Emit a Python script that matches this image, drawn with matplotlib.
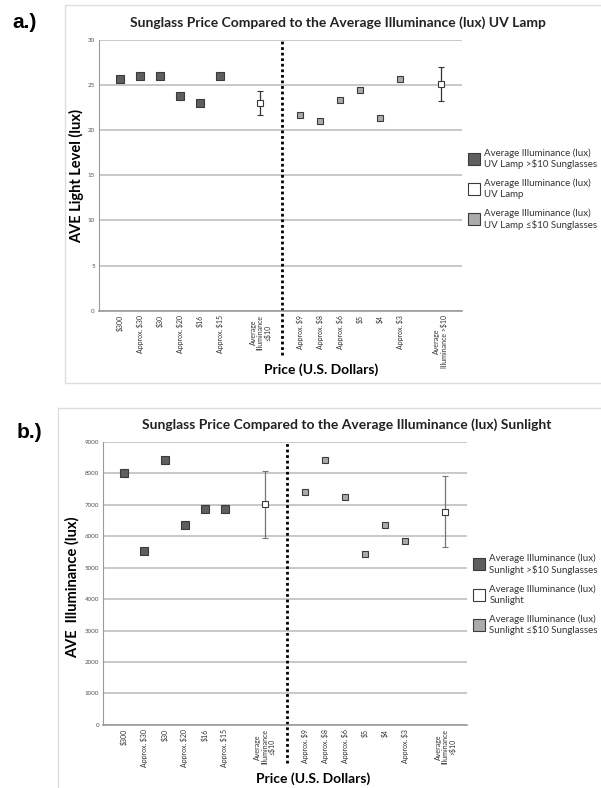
import matplotlib.pyplot as plt
from matplotlib.lines import Line2D
from matplotlib.patches import Rectangle

# categories (blank slots keep the Excel spacing)
cats_a = ['$300', 'Approx. $30', '$30', 'Approx. $20', '$16', 'Approx. $15', '',
          'Average\nIlluminance\n≤$10', '', 'Approx. $9', 'Approx. $8', 'Approx. $6',
          '$5', '$4', 'Approx. $3', '', 'Average\nIlluminance >$10', '']
cats_b = ['$300', 'Approx. $30', '$30', 'Approx. $20', '$16', 'Approx. $15', '',
          'Average\nIlluminance\n≤$10', '', 'Approx. $9', 'Approx. $8', 'Approx. $6',
          '$5', '$4', 'Approx. $3', '', 'Average\nIlluminance\n>$10', '']

# position index of each group inside the category list
idx_high = [0, 1, 2, 3, 4, 5]
idx_low = [9, 10, 11, 12, 13, 14]
idx_avg = [7, 16]

# UV lamp (lux)
uv_high = [25.7, 26.0, 26.0, 23.8, 23.05, 26.0]
uv_low = [21.7, 21.05, 23.4, 24.5, 21.35, 25.7]
uv_avg = [23.0, 25.1]
uv_err = [1.3, 1.9]

# Sunlight (lux)
sun_high = [8000, 5540, 8420, 6340, 6850, 6850]
sun_low = [7400, 8430, 7240, 5420, 6340, 5850]
sun_avg = [7010, 6780]
sun_err = [1060, 1120]

DARK = '#5f5f5f'
LIGHT = '#ababab'
EDGE = '#3a3a3a'

plt.rcParams['font.family'] = ['Lato', 'DejaVu Sans']

fig = plt.figure(figsize=(6.01, 7.88), dpi=100)


def panel(rect, cats, high, low, avg, err, ymax, ystep, title, title_x, title_y,
          ylabel, ylab_xy, xlab_xy, leg_names, leg_y, divider_drop, err_color):
    ax = fig.add_axes(rect)
    ax.set_xlim(-1.05, 17.07)
    ax.set_ylim(0, ymax)
    ax.set_yticks(range(0, ymax + 1, ystep))
    for sp in ['top', 'right']:
        ax.spines[sp].set_visible(False)
    ax.spines['left'].set_color('#9a9a9a')
    ax.spines['bottom'].set_color('#9a9a9a')
    ax.spines['bottom'].set_linewidth(1.2)
    ax.grid(axis='y', color='#c4c4c4', linewidth=1.3)
    ax.set_axisbelow(True)
    ax.tick_params(axis='y', labelsize=4.5, colors='#555555', length=0, pad=3)
    ax.set_xticks(range(len(cats)))
    ax.set_xticklabels(cats, rotation=90, fontsize=5, color='#333333',
                       ha='center', va='top', linespacing=1.0)
    ax.tick_params(axis='x', length=0, pad=3)

    ax.plot(idx_high, high, 's', ms=5.2, mfc=DARK, mec=EDGE, mew=0.8, ls='none')
    ax.plot(idx_low, low, 's', ms=4.8, mfc=LIGHT, mec=EDGE, mew=0.8, ls='none')
    ax.errorbar(idx_avg, avg, yerr=err, fmt='s', ms=5, mfc='white', mec=EDGE,
                mew=0.8, ecolor=err_color, elinewidth=0.9, capsize=2.5, capthick=0.9)

    ax.axvline(8.1, ymin=-divider_drop, ymax=1, color='black', ls=(0, (1, 1)),
               lw=2, clip_on=False)

    fig.text(title_x, title_y, title, fontsize=10, fontweight='bold', color='#222222',
             ha='center', va='center')
    ax.set_ylabel(ylabel, fontsize=10.5, fontweight='bold', color='black')
    ax.yaxis.set_label_coords(*ylab_xy)
    ax.set_xlabel('Price (U.S. Dollars)', fontsize=10, fontweight='bold', color='black')
    ax.xaxis.set_label_coords(*xlab_xy)

    handles = [Line2D([], [], marker='s', ls='none', ms=9, mfc=DARK, mec=EDGE, mew=0.8),
               Line2D([], [], marker='s', ls='none', ms=9, mfc='white', mec=EDGE, mew=0.8),
               Line2D([], [], marker='s', ls='none', ms=9, mfc=LIGHT, mec=EDGE, mew=0.8)]
    leg = ax.legend(handles, leg_names, loc='center left', bbox_to_anchor=(1.0, leg_y),
                    frameon=False, fontsize=7, handlelength=1.0, handletextpad=0.6,
                    labelspacing=1.0, borderaxespad=0.3)
    for t in leg.get_texts():
        t.set_color('#333333')
    return ax


ax_a = panel([0.1647, 0.6057, 0.604, 0.3435], cats_a, uv_high, uv_low, uv_avg, uv_err,
             30, 5, 'Sunglass Price Compared to the Average Illuminance (lux) UV Lamp',
             338 / 601, 1 - 23 / 788,
             'AVE Light Level (lux)', (-0.04, 0.496), (0.612, -0.195),
             ['Average Illuminance (lux)\nUV Lamp >$10 Sunglasses',
              'Average Illuminance (lux)\nUV Lamp',
              'Average Illuminance (lux)\nUV Lamp ≤$10 Sunglasses'],
             0.45, 0.164, '#333333')

ax_b = panel([0.1719, 0.0800, 0.605, 0.3595], cats_b, sun_high, sun_low, sun_avg, sun_err,
             9000, 1000, 'Sunglass Price Compared to the Average Illuminance (lux) Sunlight',
             347 / 601, 1 - 425 / 788,
             'AVE  Illuminance (lux)', (-0.064, 0.487), (0.577, -0.168),
             ['Average Illuminance (lux)\nSunlight >$10 Sunglasses',
              'Average Illuminance (lux)\nSunlight',
              'Average Illuminance (lux)\nSunlight ≤$10 Sunglasses'],
             0.46, 0.134, '#777777')

# light frames around each panel
fig.add_artist(Rectangle((64.6 / 601, 1 - 383 / 788), 1, (383 - 5) / 788,
                         transform=fig.transFigure, fill=False, ec='#dddddd', lw=1))
fig.add_artist(Rectangle((57.7 / 601, 1 - 790 / 788), 1, (790 - 408) / 788,
                         transform=fig.transFigure, fill=False, ec='#dddddd', lw=1))

fig.text(12 / 601, 1 - 22 / 788, 'a.)', fontsize=15, fontweight='bold',
         family='Liberation Sans', va='center', ha='left')
fig.text(17 / 601, 1 - 433 / 788, 'b.)', fontsize=15, fontweight='bold',
         family='Liberation Sans', va='center', ha='left')

fig.savefig('out.png', dpi=100)
